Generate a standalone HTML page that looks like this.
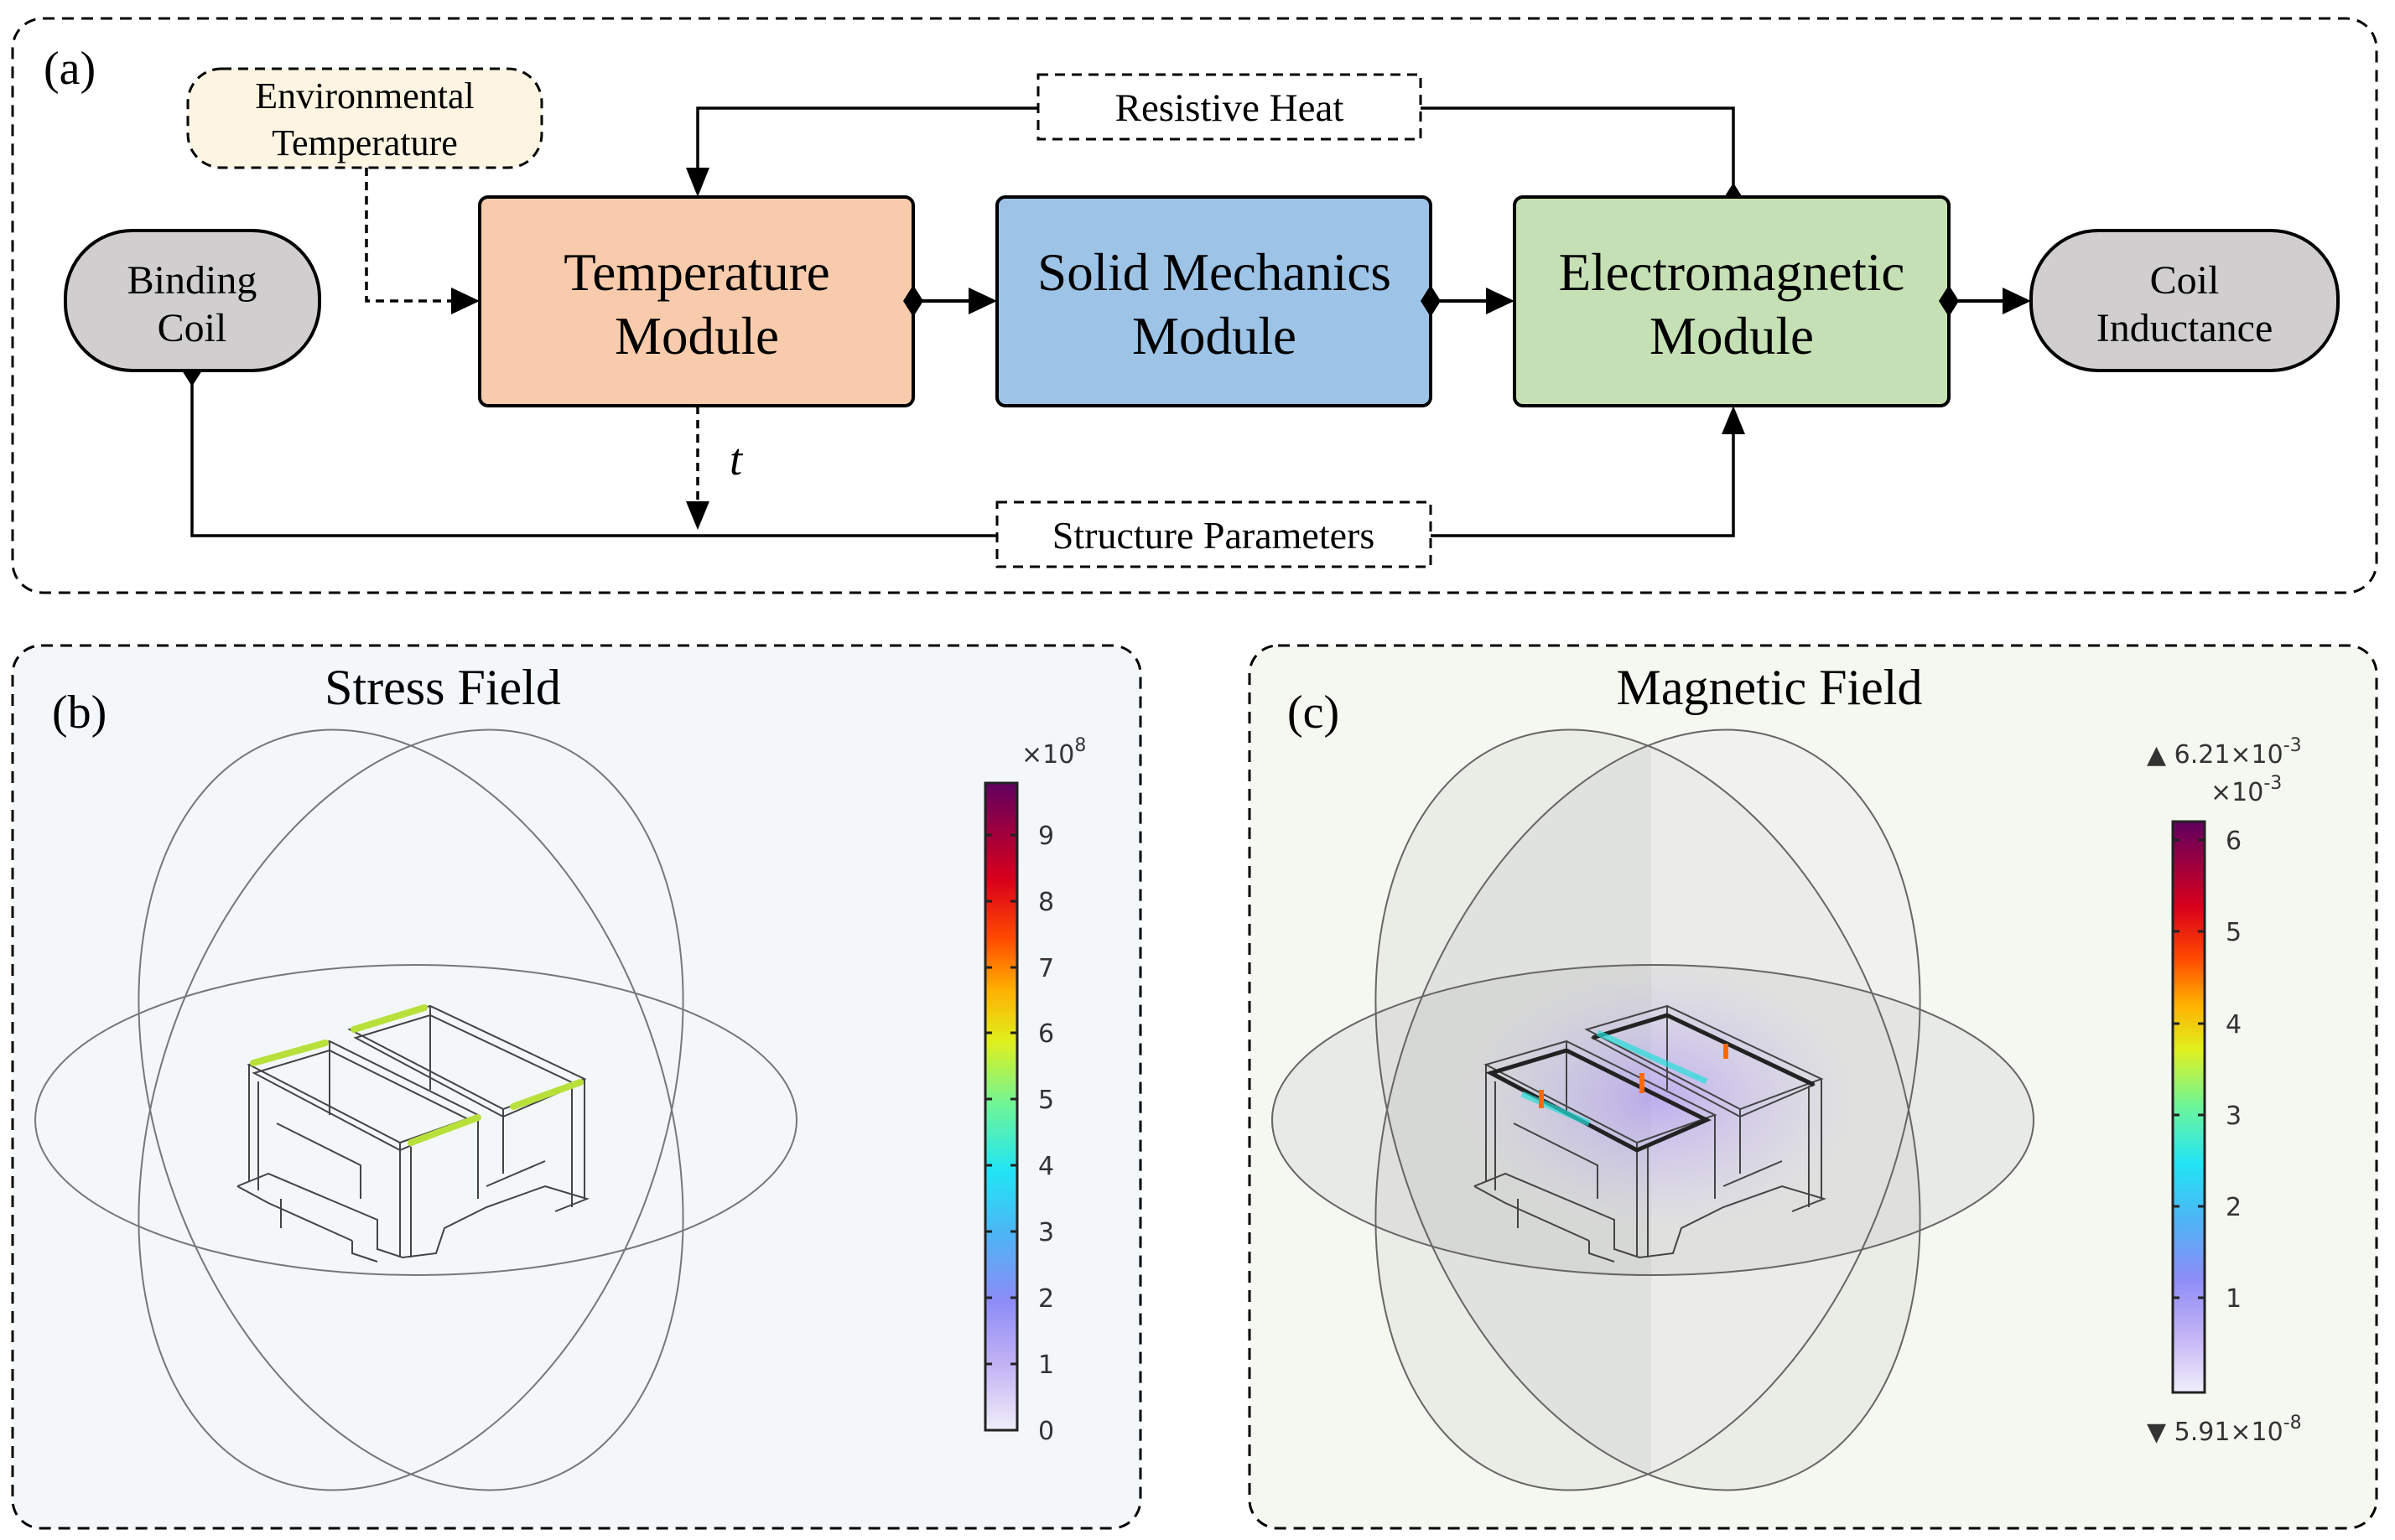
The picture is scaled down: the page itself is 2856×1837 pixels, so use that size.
<!DOCTYPE html>
<html><head><meta charset="utf-8"><style>
html,body{margin:0;padding:0;background:#fff;}
svg{display:block;}
.serif{font-family:"Liberation Serif",serif;}
.sans{font-family:"DejaVu Sans","Liberation Sans",sans-serif;}
</style></head><body>
<svg width="2856" height="1837" viewBox="0 0 2856 1837" xmlns="http://www.w3.org/2000/svg">
<defs>
<linearGradient id="cb" x1="0" y1="1" x2="0" y2="0">
<stop offset="0" stop-color="#f0eefa"/>
<stop offset="0.1" stop-color="#c3b3f5"/>
<stop offset="0.2" stop-color="#8d8cf7"/>
<stop offset="0.3" stop-color="#4fb3f5"/>
<stop offset="0.4" stop-color="#22e4f5"/>
<stop offset="0.5" stop-color="#6cf59a"/>
<stop offset="0.6" stop-color="#e0f01f"/>
<stop offset="0.68" stop-color="#ffb000"/>
<stop offset="0.76" stop-color="#ff4a00"/>
<stop offset="0.85" stop-color="#d9001c"/>
<stop offset="0.93" stop-color="#9a0040"/>
<stop offset="1" stop-color="#600060"/>
</linearGradient>
<radialGradient id="glow" cx="0.5" cy="0.5" r="0.5">
<stop offset="0" stop-color="#9a7cff" stop-opacity="0.5"/>
<stop offset="0.6" stop-color="#b9a6ff" stop-opacity="0.22"/>
<stop offset="1" stop-color="#d0c6ff" stop-opacity="0"/>
</radialGradient>
<clipPath id="vc"><ellipse cx="490" cy="1324" rx="300" ry="470" transform="rotate(20 490 1324)"/></clipPath>
</defs>

<!-- Panel a -->
<rect x="15" y="22" width="2819" height="685" rx="36" fill="#fff" stroke="#000" stroke-width="3" stroke-dasharray="14,9"/>
<text x="52" y="100" class="serif" font-size="56">(a)</text>

<rect x="224" y="82" width="422" height="118" rx="40" fill="#fdf5e2" stroke="#000" stroke-width="3" stroke-dasharray="12,8"/>
<text x="435" y="129" class="serif" font-size="44" text-anchor="middle">Environmental</text>
<text x="435" y="185" class="serif" font-size="44" text-anchor="middle">Temperature</text>

<rect x="1238" y="89" width="456" height="77" fill="#fff" stroke="#000" stroke-width="3" stroke-dasharray="12,8"/>
<text x="1466" y="144" class="serif" font-size="47" text-anchor="middle">Resistive Heat</text>

<rect x="1189" y="599" width="517" height="77" fill="#fff" stroke="#000" stroke-width="3" stroke-dasharray="12,8"/>
<text x="1447" y="654" class="serif" font-size="46" text-anchor="middle">Structure Parameters</text>

<path d="M1238,129 H832 V210" fill="none" stroke="#000" stroke-width="3.5"/>
<path d="M818,200 L846,200 L832,235z" fill="#000"/>
<path d="M1694,129 H2067 V235" fill="none" stroke="#000" stroke-width="3.5"/>
<path d="M2067,218 L2079,237 L2067,256 L2055,237z" fill="#000"/>
<path d="M437,200 V359 H545" fill="none" stroke="#000" stroke-width="3.5" stroke-dasharray="10,7"/>
<path d="M538,343 L572,359 L538,375z" fill="#000"/>
<path d="M832,484 V600" fill="none" stroke="#000" stroke-width="3.5" stroke-dasharray="10,7"/>
<path d="M818,598 L846,598 L832,632z" fill="#000"/>
<text x="870" y="566" class="serif" font-size="54" font-style="italic">t</text>
<path d="M229,442 V639 H1189" fill="none" stroke="#000" stroke-width="3.5"/>
<path d="M229,423 L241,442 L229,461 L217,442z" fill="#000"/>
<path d="M1706,639 H2067 V505" fill="none" stroke="#000" stroke-width="3.5"/>
<path d="M2053,518 L2081,518 L2067,484z" fill="#000"/>

<rect x="572" y="235" width="517" height="249" rx="10" fill="#f7cbab" stroke="#000" stroke-width="4"/>
<text x="831" y="346" class="serif" font-size="63" text-anchor="middle">Temperature</text>
<text x="831" y="422" class="serif" font-size="63" text-anchor="middle">Module</text>
<rect x="1189" y="235" width="517" height="249" rx="10" fill="#9dc3e6" stroke="#000" stroke-width="4"/>
<text x="1448" y="346" class="serif" font-size="63" text-anchor="middle">Solid Mechanics</text>
<text x="1448" y="422" class="serif" font-size="63" text-anchor="middle">Module</text>
<rect x="1806" y="235" width="518" height="249" rx="10" fill="#c5e0b4" stroke="#000" stroke-width="4"/>
<text x="2065" y="346" class="serif" font-size="63" text-anchor="middle">Electromagnetic</text>
<text x="2065" y="422" class="serif" font-size="63" text-anchor="middle">Module</text>

<rect x="78" y="275" width="303" height="167" rx="80" fill="#d0cecf" stroke="#000" stroke-width="4"/>
<text x="229" y="350" class="serif" font-size="48" text-anchor="middle">Binding</text>
<text x="229" y="407" class="serif" font-size="48" text-anchor="middle">Coil</text>
<rect x="2422" y="275" width="366" height="167" rx="80" fill="#d0cecf" stroke="#000" stroke-width="4"/>
<text x="2605" y="350" class="serif" font-size="48" text-anchor="middle">Coil</text>
<text x="2605" y="407" class="serif" font-size="48" text-anchor="middle">Inductance</text>

<g fill="#000">
<path d="M1089,340 L1101,359 L1089,378 L1077,359z"/><path d="M1100,359 H1160" stroke="#000" stroke-width="4"/><path d="M1155,343 L1189,359 L1155,375z"/>
<path d="M1706,340 L1718,359 L1706,378 L1694,359z"/><path d="M1717,359 H1777" stroke="#000" stroke-width="4"/><path d="M1772,343 L1806,359 L1772,375z"/>
<path d="M2324,340 L2336,359 L2324,378 L2312,359z"/><path d="M2335,359 H2395" stroke="#000" stroke-width="4"/><path d="M2388,343 L2422,359 L2388,375z"/>
</g>

<!-- Panel b -->
<rect x="15" y="770" width="1345" height="1053" rx="34" fill="#f3f7fa" stroke="#000" stroke-width="3" stroke-dasharray="14,9"/>
<text x="62" y="868" class="serif" font-size="56">(b)</text>
<text x="528" y="840" class="serif" font-size="60" text-anchor="middle">Stress Field</text>

<g fill="none" stroke="#777" stroke-width="2">
<ellipse cx="496" cy="1336" rx="454" ry="185"/>
<ellipse cx="490" cy="1324" rx="300" ry="470" transform="rotate(-20 490 1324)"/>
<ellipse cx="490" cy="1324" rx="300" ry="470" transform="rotate(20 490 1324)"/>
</g>

<g id="dev" fill="none" stroke="#444" stroke-width="2">
<path d="M297,1270 L393,1242 L570,1330 L477,1363z"/>
<path d="M303,1280 L393,1253 L560,1336 L477,1372z"/>
<path d="M417,1228 L513,1200 L697,1287 L600,1323z"/>
<path d="M424,1238 L513,1211 L688,1294 L600,1332z"/>
<path d="M297,1270 V1410 M308,1290 V1420 M477,1363 V1500 M490,1368 V1500 M570,1330 V1430 M697,1287 V1430 M682,1295 V1440 M600,1323 V1400 M393,1242 V1330 M513,1200 V1300"/>
<path d="M283,1415 L320,1400 L450,1455 L450,1490 L480,1500 L520,1495 L530,1465 L580,1440 L650,1415 L700,1430 L662,1445"/>
<path d="M283,1415 L320,1435 L420,1480 M420,1480 V1495 L450,1505"/>
<path d="M330,1340 L430,1390 L430,1430 M580,1415 L650,1385 M335,1430 V1465"/>
</g>
<g stroke="#b8e03a" stroke-width="8" stroke-linecap="round">
<path d="M302,1268 L388,1244"/><path d="M490,1363 L570,1333"/>
<path d="M422,1228 L506,1202"/><path d="M612,1320 L692,1291"/>
</g>

<rect x="1175" y="934" width="38" height="772" fill="url(#cb)" stroke="#222" stroke-width="3"/>
<g stroke="#222" stroke-width="3">
<path d="M1175,1627 h8 M1205,1627 h8 M1175,1548 h8 M1205,1548 h8 M1175,1469 h8 M1205,1469 h8 M1175,1390 h8 M1205,1390 h8 M1175,1311 h8 M1205,1311 h8 M1175,1232 h8 M1205,1232 h8 M1175,1154 h8 M1205,1154 h8 M1175,1075 h8 M1205,1075 h8 M1175,996 h8 M1205,996 h8"/>
</g>
<g class="sans" font-size="30" fill="#333">
<text x="1238" y="1717">0</text><text x="1238" y="1638">1</text><text x="1238" y="1559">2</text><text x="1238" y="1480">3</text><text x="1238" y="1401">4</text><text x="1238" y="1322">5</text><text x="1238" y="1243">6</text><text x="1238" y="1165">7</text><text x="1238" y="1086">8</text><text x="1238" y="1007">9</text>
<text x="1218" y="910">×10<tspan dy="-14" font-size="22">8</tspan></text>
</g>

<!-- Panel c -->
<rect x="1490" y="770" width="1344" height="1053" rx="34" fill="#f5f7f1" stroke="#000" stroke-width="3" stroke-dasharray="14,9"/>
<text x="1535" y="868" class="serif" font-size="56">(c)</text>
<text x="2110" y="840" class="serif" font-size="60" text-anchor="middle">Magnetic Field</text>

<g transform="translate(1475,0)">
<ellipse cx="490" cy="1324" rx="300" ry="470" transform="rotate(-20 490 1324)" fill="#a0a0a0" fill-opacity="0.13"/>
<ellipse cx="490" cy="1324" rx="300" ry="470" transform="rotate(20 490 1324)" fill="#a0a0a0" fill-opacity="0.13"/>
<rect x="494" y="840" width="360" height="980" fill="#fff" fill-opacity="0.35" clip-path="url(#vc)"/>
<ellipse cx="496" cy="1336" rx="454" ry="185" fill="#a0a0a0" fill-opacity="0.15"/>
<ellipse cx="500" cy="1310" rx="240" ry="160" fill="url(#glow)"/>
<g fill="none" stroke="#666" stroke-width="2">
<ellipse cx="496" cy="1336" rx="454" ry="185"/>
<ellipse cx="490" cy="1324" rx="300" ry="470" transform="rotate(-20 490 1324)"/>
<ellipse cx="490" cy="1324" rx="300" ry="470" transform="rotate(20 490 1324)"/>
</g>
<use href="#dev"/>
<g stroke="#222" stroke-width="5" fill="none"><path d="M303,1280 L393,1253 L560,1336 L477,1372z"/><path d="M424,1238 L513,1211 L688,1294"/></g>
<g stroke="#27e0d8" stroke-width="7" stroke-opacity="0.7"><path d="M430,1232 L560,1290"/><path d="M340,1305 L420,1340"/></g>
<g fill="#ff6a00"><rect x="360" y="1300" width="6" height="22"/><rect x="480" y="1280" width="6" height="24"/><rect x="580" y="1245" width="6" height="18"/></g>
</g>

<rect x="2591" y="980" width="38" height="681" fill="url(#cb)" stroke="#222" stroke-width="3"/>
<g stroke="#222" stroke-width="3">
<path d="M2591,1548 h8 M2621,1548 h8 M2591,1439 h8 M2621,1439 h8 M2591,1330 h8 M2621,1330 h8 M2591,1221 h8 M2621,1221 h8 M2591,1111 h8 M2621,1111 h8 M2591,1002 h8 M2621,1002 h8"/>
</g>
<g class="sans" font-size="30" fill="#333">
<text x="2654" y="1559">1</text><text x="2654" y="1450">2</text><text x="2654" y="1341">3</text><text x="2654" y="1232">4</text><text x="2654" y="1122">5</text><text x="2654" y="1013">6</text>
<text x="2560" y="910">▲ 6.21×10<tspan dy="-14" font-size="22">-3</tspan></text>
<text x="2636" y="955">×10<tspan dy="-14" font-size="22">-3</tspan></text>
<text x="2560" y="1718">▼ 5.91×10<tspan dy="-14" font-size="22">-8</tspan></text>
</g>
</svg>
</body></html>
